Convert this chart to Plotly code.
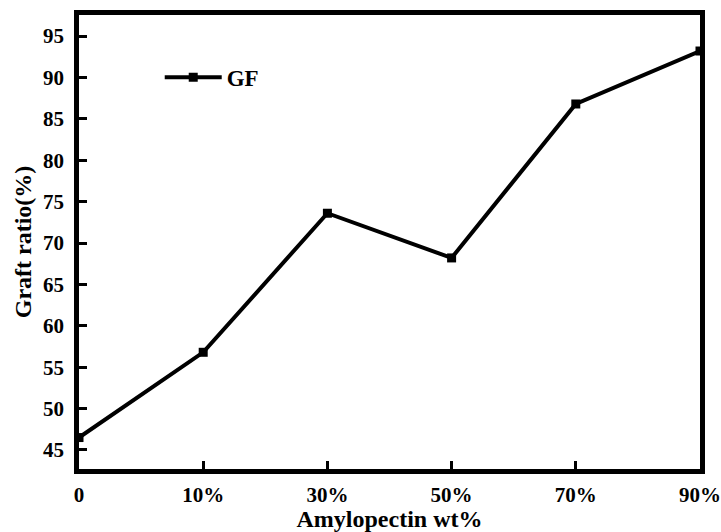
import plotly.graph_objects as go

categories = ["0", "10%", "30%", "50%", "70%", "90%"]
graft_ratio = [46.5, 56.8, 73.6, 68.2, 86.8, 93.2]
y_ticks = [45, 50, 55, 60, 65, 70, 75, 80, 85, 90, 95]

FONT = "Liberation Serif, Times New Roman, serif"

fig = go.Figure()
fig.add_trace(go.Scatter(
    x=categories, y=graft_ratio, mode="lines+markers", name="GF",
    line=dict(color="black", width=4),
    marker=dict(symbol="square", size=9, color="black"),
))

fig.update_layout(
    width=721, height=532,
    margin=dict(l=79, r=21, t=15, b=63, autoexpand=False),
    paper_bgcolor="white", plot_bgcolor="white",
    font=dict(family=FONT, color="black", size=21, weight="bold"),
    showlegend=True,
    legend=dict(x=0.13, y=0.863, xanchor="left", yanchor="middle", itemwidth=57,
                bgcolor="rgba(0,0,0,0)", font=dict(size=23, weight="bold")),
    xaxis=dict(
        type="category", categoryorder="array", categoryarray=categories,
        range=[0, 5], showgrid=False, zeroline=False, automargin=False,
        showline=True, linecolor="black", linewidth=4.5, mirror=True,
        ticks="inside", ticklen=8, tickwidth=3, tickcolor="black",
        tickfont=dict(size=21, weight="bold"), ticklabelstandoff=3,
        title=dict(text="Amylopectin wt%", font=dict(size=24, weight="bold"), standoff=0),
    ),
    yaxis=dict(
        range=[42.7, 97.55], tickvals=y_ticks, showgrid=False, zeroline=False,
        automargin=False,
        showline=True, linecolor="black", linewidth=4.5, mirror=True,
        ticks="inside", ticklen=8, tickwidth=3, tickcolor="black",
        tickfont=dict(size=21, weight="bold"), ticklabelstandoff=6,
        title=dict(text="Graft ratio(%)", font=dict(size=24, weight="bold"), standoff=6),
    ),
)

fig.write_html("out.html")
